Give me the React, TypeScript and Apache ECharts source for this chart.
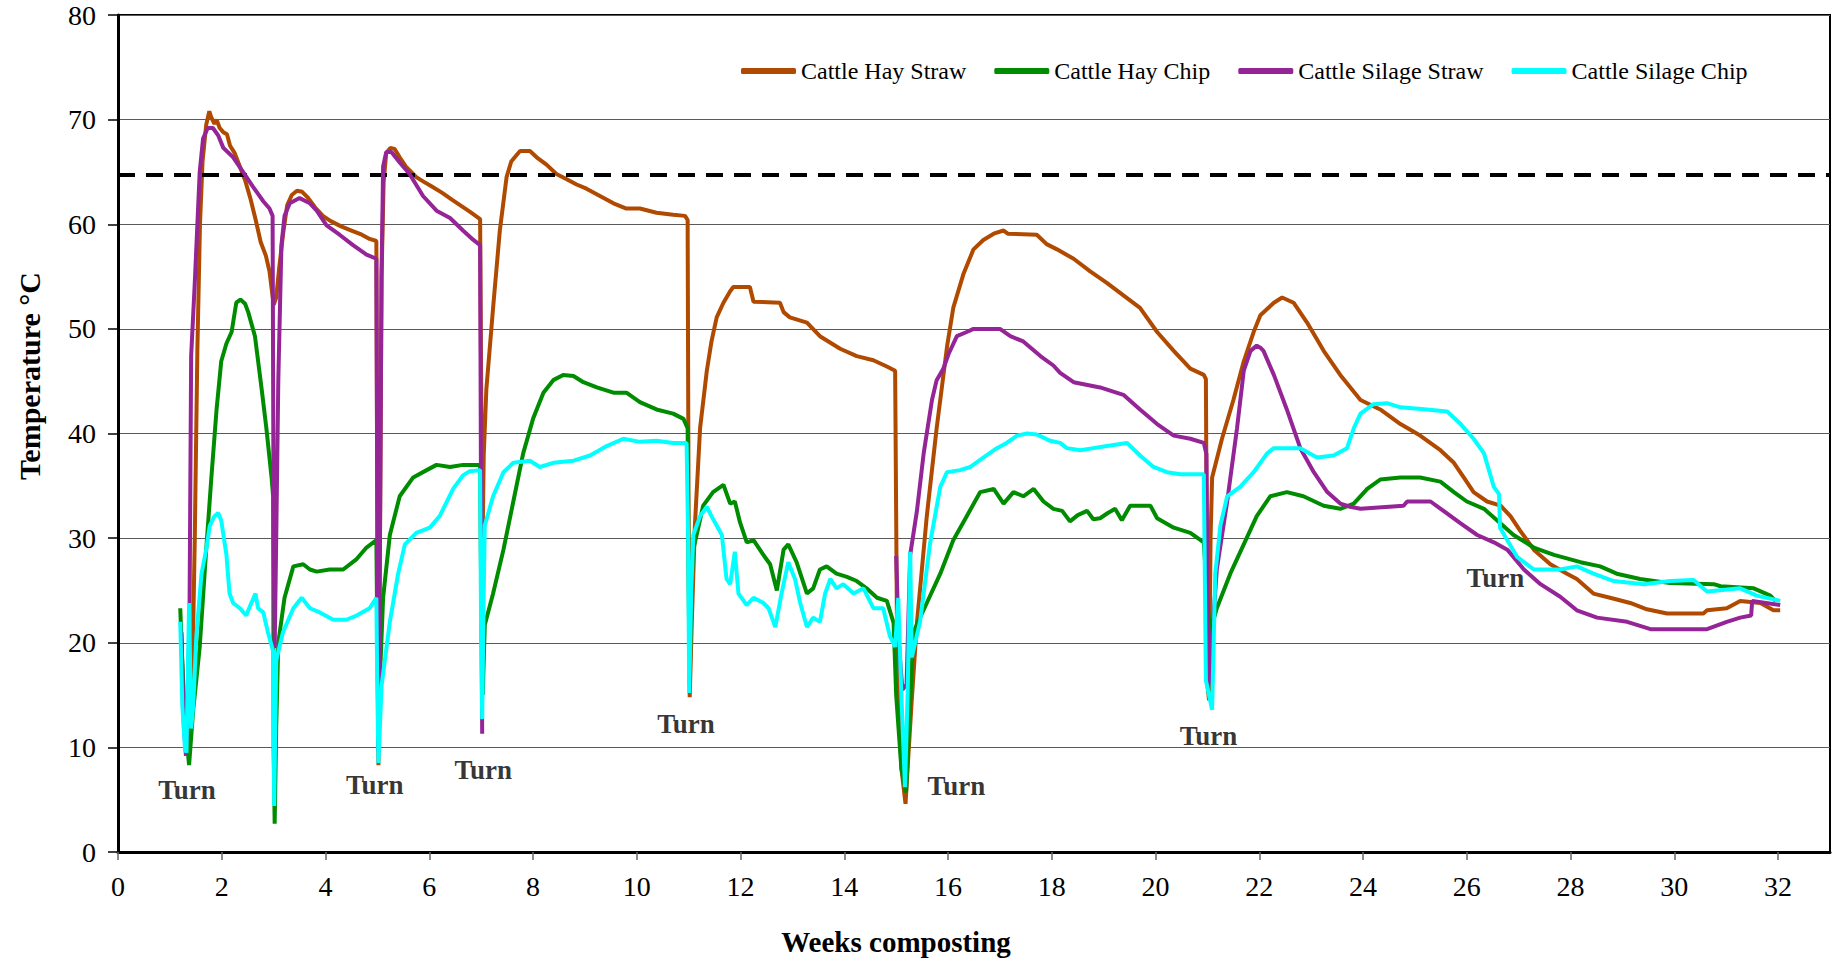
import React, { useEffect, useRef } from "react";
import * as echarts from "echarts";

// Compost pile temperatures (°C) by week of composting, [week, temperature]
const hayStraw: [number, number][] = [
  [1.22, 21], [1.27, 13], [1.31, 9.8], [1.38, 11], [1.43, 16], [1.48, 30], [1.53, 48], [1.58, 60],
  [1.63, 66], [1.7, 69.5], [1.76, 70.8], [1.8, 70.2], [1.86, 69.6], [1.9, 70], [1.96, 69.2],
  [2.03, 68.8], [2.1, 68.6], [2.16, 67.5], [2.25, 66.8], [2.35, 65.5], [2.45, 64.2], [2.55, 62.5],
  [2.65, 60.5], [2.75, 58.3], [2.85, 57], [2.92, 55.5], [2.97, 53.5], [3.0, 52.3], [3.05, 53],
  [3.1, 55.5], [3.18, 59], [3.26, 61.8], [3.35, 62.8], [3.45, 63.2], [3.55, 63.1], [3.65, 62.6],
  [3.8, 61.6], [3.95, 60.8], [4.1, 60.3], [4.3, 59.8], [4.5, 59.4], [4.7, 59], [4.85, 58.6],
  [4.98, 58.4], [5.0, 30], [5.02, 8.3], [5.05, 30], [5.08, 55], [5.12, 64], [5.17, 66.8],
  [5.25, 67.3], [5.33, 67.2], [5.43, 66.4], [5.55, 65.5], [5.75, 64.5], [5.88, 64.1], [6.05, 63.6],
  [6.25, 63], [6.45, 62.3], [6.6, 61.8], [6.78, 61.2], [6.98, 60.5], [7.0, 45], [7.02, 27],
  [7.05, 38], [7.1, 44.2], [7.23, 52], [7.36, 59.4], [7.49, 64.5], [7.58, 66], [7.68, 66.6],
  [7.75, 67], [7.94, 67], [8.07, 66.4], [8.26, 65.7], [8.45, 64.8], [8.65, 64.3], [8.84, 63.8],
  [9.03, 63.4], [9.29, 62.7], [9.55, 62], [9.8, 61.5], [10.06, 61.5], [10.38, 61.1], [10.7, 60.9],
  [10.93, 60.8], [10.98, 60.4], [11.0, 30], [11.02, 14.8], [11.06, 21.9], [11.12, 31.2],
  [11.22, 40.5], [11.35, 46], [11.44, 48.8], [11.54, 51.1], [11.67, 52.5], [11.8, 53.6],
  [11.86, 54], [12.18, 54], [12.25, 52.6], [12.76, 52.5], [12.83, 51.6], [12.95, 51.1],
  [13.28, 50.6], [13.53, 49.3], [13.92, 48.1], [14.24, 47.4], [14.56, 47], [14.82, 46.4],
  [14.98, 46], [15.02, 18], [15.1, 8], [15.18, 4.6], [15.22, 8], [15.3, 14.5], [15.4, 21.9],
  [15.59, 32.1], [15.78, 40.5], [15.98, 48.3], [16.1, 52], [16.3, 55.3], [16.49, 57.6],
  [16.68, 58.5], [16.88, 59.1], [17.07, 59.4], [17.15, 59.1], [17.71, 59], [17.9, 58.1],
  [18.1, 57.6], [18.42, 56.7], [18.74, 55.5], [19.06, 54.4], [19.38, 53.2], [19.7, 52],
  [20.03, 49.7], [20.35, 47.9], [20.67, 46.2], [20.93, 45.6], [20.97, 45.2], [21.0, 16],
  [21.03, 14.5], [21.06, 30], [21.09, 35.8], [21.28, 39.5], [21.5, 43.2], [21.7, 46.9],
  [21.89, 49.7], [22.02, 51.3], [22.28, 52.5], [22.44, 53], [22.66, 52.5], [22.92, 50.6],
  [23.24, 47.9], [23.56, 45.6], [23.95, 43.2], [24.33, 42.3], [24.72, 40.9], [25.1, 39.8],
  [25.49, 38.4], [25.75, 37.2], [25.94, 35.8], [26.13, 34.4], [26.39, 33.5], [26.65, 33.1],
  [26.84, 32.1], [27.03, 30.7], [27.29, 28.9], [27.61, 27.5], [27.93, 26.6], [28.12, 26.1],
  [28.44, 24.7], [28.76, 24.3], [29.15, 23.8], [29.47, 23.2], [29.86, 22.8], [30.56, 22.8],
  [30.63, 23.1], [31.01, 23.3], [31.27, 24], [31.66, 23.8], [31.91, 23.1], [32.04, 23.1],
];

const hayChip: [number, number][] = [
  [1.2, 23.3], [1.24, 18], [1.3, 12], [1.37, 8.3], [1.45, 13.6], [1.575, 19.6], [1.7, 28.9],
  [1.8, 35.8], [1.9, 42.3], [1.99, 46.9], [2.09, 48.6], [2.19, 49.7], [2.28, 52.5], [2.36, 52.8],
  [2.45, 52.4], [2.51, 51.6], [2.64, 49.3], [2.77, 44.2], [2.86, 40.5], [2.96, 35.8], [2.99, 34],
  [3.0, 10], [3.02, 2.7], [3.05, 12], [3.09, 20], [3.21, 24.3], [3.38, 27.3], [3.57, 27.5],
  [3.7, 27], [3.83, 26.8], [4.08, 27], [4.34, 27], [4.6, 28], [4.79, 29.1], [4.98, 29.8],
  [5.0, 20], [5.02, 10], [5.06, 18], [5.11, 24.3], [5.24, 30.3], [5.43, 34], [5.69, 35.8],
  [5.95, 36.5], [6.14, 37], [6.4, 36.8], [6.65, 37], [6.98, 37], [7.0, 25], [7.03, 15],
  [7.07, 21.7], [7.23, 24.7], [7.43, 28.9], [7.62, 33.5], [7.81, 38.1], [8.0, 41.4], [8.2, 43.9],
  [8.39, 45.1], [8.58, 45.6], [8.78, 45.5], [8.97, 44.9], [9.23, 44.4], [9.55, 43.9], [9.8, 43.9],
  [10.06, 43], [10.38, 42.3], [10.7, 41.9], [10.9, 41.4], [10.98, 40.5], [11.0, 25], [11.02, 16],
  [11.05, 25], [11.09, 28.9], [11.28, 33.1], [11.47, 34.4], [11.67, 35.1], [11.8, 33.3],
  [11.89, 33.5], [11.99, 31.5], [12.12, 29.6], [12.25, 29.8], [12.44, 28.4], [12.57, 27.5],
  [12.7, 25], [12.83, 28.9], [12.92, 29.4], [13.08, 27.7], [13.28, 24.7], [13.4, 25.2],
  [13.53, 27], [13.66, 27.3], [13.85, 26.6], [14.05, 26.3], [14.24, 25.9], [14.43, 25.2],
  [14.63, 24.3], [14.82, 24], [14.95, 21.9], [15.0, 15], [15.1, 8], [15.19, 5.7], [15.25, 12],
  [15.33, 21], [15.59, 23.8], [15.85, 26.6], [16.1, 29.8], [16.36, 32.1], [16.62, 34.4],
  [16.88, 34.7], [17.07, 33.3], [17.26, 34.4], [17.45, 34], [17.65, 34.7], [17.84, 33.5],
  [18.03, 32.8], [18.2, 32.6], [18.35, 31.6], [18.5, 32.2], [18.68, 32.6], [18.8, 31.8],
  [18.93, 31.9], [19.08, 32.4], [19.22, 32.8], [19.35, 31.7], [19.51, 33.1], [19.9, 33.1],
  [20.03, 31.9], [20.35, 31], [20.67, 30.5], [20.93, 29.6], [21.0, 24], [21.05, 21],
  [21.18, 23.3], [21.44, 26.6], [21.7, 29.4], [21.95, 32.1], [22.21, 34], [22.53, 34.4],
  [22.85, 34], [23.24, 33.1], [23.56, 32.8], [23.82, 33.3], [24.08, 34.7], [24.33, 35.6],
  [24.72, 35.8], [25.1, 35.8], [25.49, 35.4], [25.75, 34.4], [26.0, 33.5], [26.33, 32.8],
  [26.58, 31.7], [26.9, 30.3], [27.29, 29.1], [27.68, 28.4], [28.19, 27.7], [28.57, 27.3],
  [28.89, 26.6], [29.34, 26.1], [29.92, 25.7], [30.76, 25.6], [30.89, 25.4], [31.53, 25.2],
  [31.85, 24.5], [31.95, 24],
];

// No readings for this pile between the turns at weeks 7 and 15
const silageStraw: [number, number | null][] = [
  [1.22, 21], [1.27, 12], [1.31, 9.2], [1.35, 15], [1.38, 23.8], [1.41, 47.4], [1.48, 54.4],
  [1.575, 65], [1.64, 68.2], [1.73, 69.2], [1.83, 69.2], [1.93, 68.5], [2.03, 67.3], [2.22, 66.4],
  [2.41, 65], [2.6, 63.6], [2.8, 62.2], [2.92, 61.5], [2.98, 60.8], [3.0, 30], [3.02, 19.5],
  [3.05, 30], [3.09, 45.1], [3.15, 58], [3.21, 60.8], [3.31, 62], [3.5, 62.5], [3.7, 62],
  [3.83, 61.3], [4.02, 59.9], [4.27, 59], [4.53, 58], [4.79, 57.1], [4.98, 56.7], [5.0, 30],
  [5.02, 9.5], [5.05, 30], [5.08, 55], [5.11, 65.5], [5.17, 66.9], [5.27, 66.9], [5.43, 65.9],
  [5.62, 64.8], [5.88, 62.7], [6.14, 61.3], [6.4, 60.6], [6.65, 59.4], [6.85, 58.5], [6.98, 58],
  [7.0, 30], [7.02, 11.3], [7.03, null], [14.99, null], [15.0, 28.3], [15.05, 20], [15.12, 15.5],
  [15.2, 16], [15.27, 28.4], [15.4, 32.6], [15.53, 38.1], [15.69, 43.2], [15.78, 45.1],
  [15.91, 46.2], [16.01, 47.6], [16.17, 49.3], [16.36, 49.7], [16.49, 50], [17.0, 50],
  [17.2, 49.3], [17.45, 48.8], [17.78, 47.4], [18.03, 46.5], [18.16, 45.8], [18.42, 44.9],
  [18.93, 44.4], [19.38, 43.7], [19.7, 42.3], [20.03, 40.9], [20.35, 39.8], [20.67, 39.5],
  [20.93, 39.1], [20.98, 38], [21.0, 25], [21.03, 16], [21.08, 20], [21.18, 27], [21.38, 33.5],
  [21.57, 40.5], [21.7, 46], [21.83, 47.9], [21.95, 48.4], [22.02, 48.2], [22.08, 47.9],
  [22.28, 45.6], [22.53, 42.3], [22.79, 38.6], [23.05, 36.3], [23.31, 34.4], [23.56, 33.3],
  [23.75, 33], [23.95, 32.8], [24.78, 33.1], [24.85, 33.5], [25.3, 33.5], [25.55, 32.6],
  [25.88, 31.4], [26.2, 30.3], [26.52, 29.6], [26.78, 28.9], [27.1, 27], [27.42, 25.6],
  [27.8, 24.4], [28.12, 23.1], [28.51, 22.4], [29.09, 22], [29.54, 21.3], [30.63, 21.3],
  [31.01, 22], [31.27, 22.4], [31.48, 22.6], [31.5, 24], [32.04, 23.6],
];

const silageChip: [number, number][] = [
  [1.2, 22], [1.24, 14], [1.29, 10], [1.32, 9.5], [1.37, 23.8], [1.41, 11.8], [1.45, 14],
  [1.51, 20.6], [1.61, 26.6], [1.7, 28.9], [1.77, 31.2], [1.86, 32.1], [1.93, 32.4], [1.99, 31.7],
  [2.09, 28.4], [2.15, 24.7], [2.22, 23.8], [2.35, 23.3], [2.47, 22.6], [2.57, 23.8], [2.65, 24.7],
  [2.7, 23.3], [2.8, 22.9], [2.89, 21], [2.99, 19.2], [3.01, 4.4], [3.05, 18.3], [3.18, 21],
  [3.38, 23.3], [3.54, 24.3], [3.7, 23.3], [3.89, 22.9], [4.15, 22.2], [4.4, 22.2], [4.6, 22.6],
  [4.85, 23.3], [4.98, 24.3], [5.0, 15], [5.02, 8.5], [5.08, 15.9], [5.24, 22], [5.4, 26.6],
  [5.53, 29.4], [5.75, 30.5], [6.01, 31], [6.2, 32.1], [6.46, 34.7], [6.65, 36], [6.78, 36.4],
  [6.98, 36.5], [7.0, 20], [7.02, 12.7], [7.05, 25], [7.07, 31.2], [7.23, 34], [7.43, 36.3],
  [7.62, 37.2], [7.94, 37.4], [8.13, 36.8], [8.39, 37.2], [8.78, 37.4], [9.1, 37.9], [9.42, 38.8],
  [9.74, 39.5], [10.06, 39.2], [10.38, 39.3], [10.7, 39.1], [10.96, 39.1], [10.99, 30],
  [11.01, 15.2], [11.05, 25], [11.09, 30.3], [11.22, 32.1], [11.35, 33], [11.44, 32.1],
  [11.54, 31.2], [11.64, 30.3], [11.73, 26.1], [11.8, 25.6], [11.89, 28.7], [11.96, 24.7],
  [12.12, 23.6], [12.25, 24.3], [12.44, 23.8], [12.54, 23.3], [12.67, 21.5], [12.79, 24.7],
  [12.92, 27.7], [13.05, 26.1], [13.15, 23.8], [13.28, 21.5], [13.4, 22.4], [13.53, 22],
  [13.63, 24.7], [13.73, 26.1], [13.85, 25.2], [13.98, 25.6], [14.18, 24.7], [14.37, 25.2],
  [14.56, 23.3], [14.75, 23.3], [14.88, 20.6], [14.98, 19.6], [15.04, 24.3], [15.1, 15],
  [15.17, 6.2], [15.22, 15], [15.27, 28.7], [15.3, 18.6], [15.46, 22], [15.65, 29.4],
  [15.85, 34.9], [15.98, 36.3], [16.23, 36.5], [16.43, 36.8], [16.68, 37.7], [16.94, 38.6],
  [17.13, 39.1], [17.33, 39.8], [17.52, 40], [17.71, 39.9], [17.97, 39.3], [18.16, 39.1],
  [18.29, 38.6], [18.55, 38.4], [18.8, 38.6], [19.06, 38.8], [19.45, 39.1], [19.7, 37.9],
  [19.96, 36.8], [20.22, 36.3], [20.48, 36.1], [20.93, 36.1], [20.97, 16.4], [21.09, 13.6],
  [21.15, 26.6], [21.25, 31.2], [21.38, 34], [21.63, 34.9], [21.89, 36.3], [22.15, 38.1],
  [22.28, 38.6], [22.79, 38.6], [23.11, 37.7], [23.43, 37.9], [23.69, 38.6], [23.82, 40.5],
  [23.95, 41.9], [24.2, 42.8], [24.46, 42.9], [24.72, 42.5], [25.23, 42.3], [25.62, 42.1],
  [25.88, 40.9], [26.13, 39.5], [26.33, 38.1], [26.52, 34.9], [26.62, 34.2], [26.64, 31],
  [26.78, 29.8], [26.97, 28.2], [27.29, 27], [27.8, 27], [28.12, 27.3], [28.44, 26.6],
  [28.83, 25.9], [29.41, 25.6], [29.92, 25.9], [30.37, 26], [30.63, 24.9], [31.27, 25.2],
  [31.59, 24.5], [32.04, 24],
];

// Where each pile turning is annotated, [week, temperature]
const turnMarks: [number, number][] = [
  [1.33, 5.9], [4.95, 6.4], [7.04, 7.8], [10.95, 12.2], [16.16, 6.3], [21.02, 11.1], [26.55, 26.2],
];

const thresholdTemp = 64.7;

const seriesNames = ["Cattle Hay Straw", "Cattle Hay Chip", "Cattle Silage Straw", "Cattle Silage Chip"];
const seriesColors = ["#B04A00", "#008C00", "#952497", "#00FFFF"];
const seriesData = [hayStraw, hayChip, silageStraw, silageChip];

const FONT = '"Liberation Serif", "Times New Roman", serif';

export default function App() {
  const ref = useRef<HTMLDivElement>(null);

  useEffect(() => {
    document.body.style.margin = "0";
    if (!ref.current) return;
    const chart = echarts.init(ref.current, null, { renderer: "svg" });

    const lines = seriesNames.map((name, i) => ({
      name,
      type: "line",
      data: seriesData[i],
      showSymbol: false,
      symbol: "none",
      connectNulls: false,
      color: seriesColors[i],
      lineStyle: { color: seriesColors[i], width: 4 },
      z: 3 + i,
    }));

    chart.setOption({
      animation: false,
      textStyle: { fontFamily: FONT, color: "#000" },
      grid: {
        left: 118,
        right: 2,
        top: 15,
        bottom: 108,
        show: true,
        borderColor: "#000",
        borderWidth: 2,
        backgroundColor: "transparent",
      },
      legend: {
        data: seriesNames,
        left: 736,
        top: 54,
        icon: "roundRect",
        itemWidth: 55,
        itemHeight: 6,
        itemGap: 28,
        textStyle: { fontFamily: FONT, fontSize: 24, color: "#000" },
      },
      xAxis: {
        type: "value",
        min: 0,
        max: 33,
        interval: 2,
        axisLine: { show: true, lineStyle: { color: "#000", width: 3 } },
        axisTick: { show: true, inside: false, length: 8, lineStyle: { color: "#666", width: 1.5 } },
        axisLabel: {
          fontSize: 28,
          fontFamily: FONT,
          color: "#000",
          margin: 20,
          showMaxLabel: false,
          formatter: (v: number) => (v % 2 === 0 ? String(v) : ""),
        },
        splitLine: { show: false },
      },
      yAxis: {
        type: "value",
        min: 0,
        max: 80,
        interval: 10,
        axisLine: { show: true, lineStyle: { color: "#000", width: 3 } },
        axisTick: { show: true, inside: false, length: 10, lineStyle: { color: "#000", width: 1.5 } },
        axisLabel: { fontSize: 28, fontFamily: FONT, color: "#000", margin: 22 },
        splitLine: { show: true, lineStyle: { color: "#5a5a5a", width: 1.2 } },
      },
      graphic: [
        {
          type: "text",
          x: 896,
          y: 942,
          style: {
            text: "Weeks composting",
            font: `bold 29px ${FONT}`,
            fill: "#000",
            align: "center",
            verticalAlign: "middle",
            textAlign: "center",
            textVerticalAlign: "middle",
          },
        },
        {
          type: "text",
          x: 29,
          y: 376,
          rotation: Math.PI / 2,
          style: {
            text: "Temperature °C",
            font: `bold 30px ${FONT}`,
            fill: "#000",
            align: "center",
            verticalAlign: "middle",
            textAlign: "center",
            textVerticalAlign: "middle",
          },
        },
      ],
      series: [
        ...lines,
        {
          name: "Turn",
          type: "scatter",
          data: turnMarks,
          symbolSize: 1,
          itemStyle: { color: "rgba(0,0,0,0)" },
          silent: true,
          z: 10,
          label: {
            show: true,
            position: "inside",
            formatter: "Turn",
            fontFamily: FONT,
            fontWeight: "bold",
            fontSize: 27,
            color: "#000",
          },
          markLine: {
            silent: true,
            symbol: ["none", "none"],
            label: { show: false },
            lineStyle: { color: "#000", width: 4, type: [17, 11] },
            data: [{ yAxis: thresholdTemp }],
          },
        },
      ],
    });

    return () => chart.dispose();
  }, []);

  return <div ref={ref} style={{ width: 1832, height: 960 }} />;
}
